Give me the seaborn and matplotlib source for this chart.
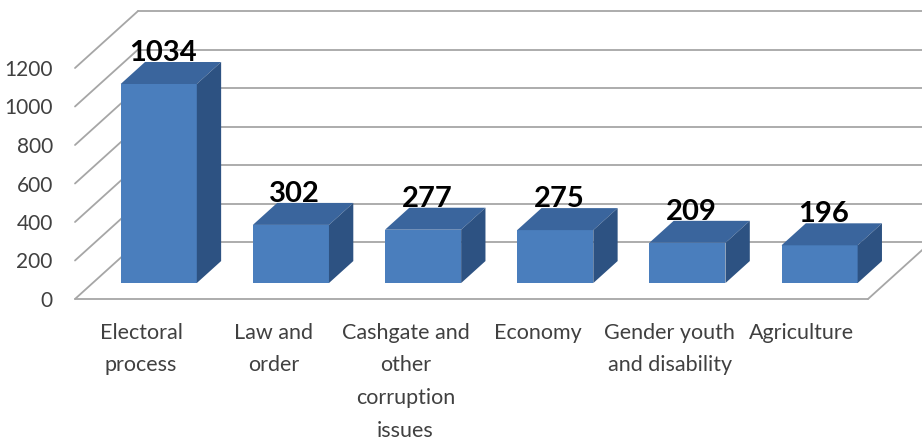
import numpy as np
import matplotlib
matplotlib.use("Agg")
import matplotlib.pyplot as plt
import seaborn as sns
from matplotlib.patches import Polygon

# datos del grafico
categorias = ["Electoral\nprocess", "Law and\norder", "Cashgate and\nother\ncorruption\nissues",
              "Economy", "Gender youth\nand disability", "Agriculture"]
valores = [1034, 302, 277, 275, 209, 196]
ticks_y = [0, 200, 400, 600, 800, 1000, 1200]

sns.set_style("white")
plt.rcParams['font.family'] = ['Lato', 'DejaVu Sans']

c_frente = "#4A7EBD"
c_arriba = "#3A659D"
c_lado = "#2D5282"
c_grid = "#A6A6A6"

fig = plt.figure(figsize=(9.22, 4.43), dpi=100)
ax = fig.add_axes([75 / 922, (443 - 299) / 443, 793 / 922, 231 / 443])

# profundidad del "3D" en unidades de datos
DX, DY = 0.477, 296          # fondo completo del piso
f0, f1 = 0.28, 0.386         # posicion y grosor de las barras en la profundidad
bx, by = DX * f0, DY * f0
dx, dy = DX * f1, DY * f1

sns.barplot(x=categorias, y=valores, color=c_frente, saturation=1, width=0.576,
            linewidth=0, ax=ax, zorder=3)

ax.set_xlim(-0.5, 5.5)
ax.set_ylim(0, 1200)

# lineas de la pared del fondo y del piso
for v in ticks_y:
    ax.plot([-0.5, -0.5 + DX], [v, v + DY], color=c_grid, lw=1.3, clip_on=False, zorder=1)
    ax.plot([-0.5 + DX, 6.3], [v + DY, v + DY], color=c_grid, lw=1.3, clip_on=False, zorder=1)
ax.plot([-0.5, 5.5], [0, 0], color=c_grid, lw=1.3, clip_on=False, zorder=1)
ax.plot([5.5, 5.5 + DX], [0, DY], color=c_grid, lw=1.3, clip_on=False, zorder=1)

# caras de arriba y del lado
for p, v in zip(ax.patches, valores):
    x0 = p.get_x() + bx
    w = p.get_width()
    p.set_x(x0)
    p.set_y(by)
    p.set_clip_on(False)
    y1 = by + v
    top = Polygon([[x0, y1], [x0 + w, y1], [x0 + w + dx, y1 + dy], [x0 + dx, y1 + dy]],
                  closed=True, facecolor=c_arriba, lw=0, zorder=3, clip_on=False)
    side = Polygon([[x0 + w, by], [x0 + w + dx, by + dy], [x0 + w + dx, y1 + dy], [x0 + w, y1]],
                   closed=True, facecolor=c_lado, lw=0, zorder=3, clip_on=False)
    ax.add_patch(top)
    ax.add_patch(side)
    ax.text(x0 + w / 2 + 0.03, y1 + dy + 6, str(v), ha="center", va="baseline",
            fontsize=21, fontweight="bold", color="black", clip_on=False, zorder=4)

ax.set_yticks(ticks_y)
ax.tick_params(axis="y", length=0, pad=16, labelsize=15, labelcolor="#404040")
ax.tick_params(axis="x", length=0, pad=17, labelsize=15.5, labelcolor="#404040")
for t in ax.get_xticklabels():
    t.set_linespacing(1.8)
    t.set_multialignment("center")
ax.set_xlabel("")
ax.set_ylabel("")
sns.despine(ax=ax, left=True, bottom=True)
ax.patch.set_alpha(0)

fig.savefig("out.png", dpi=100)
